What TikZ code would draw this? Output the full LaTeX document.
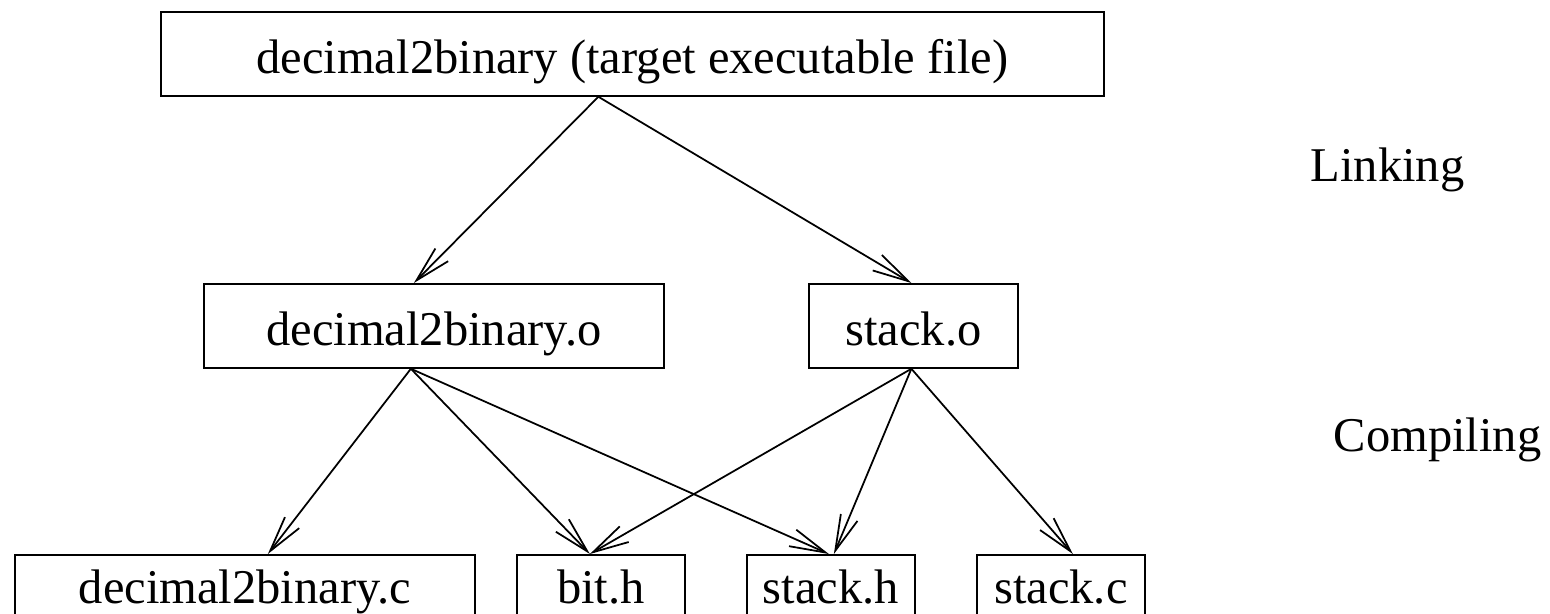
\documentclass[tikz,border=0pt]{standalone}
\usepackage{fontspec}
\setmainfont{Liberation Serif}
\usetikzlibrary{arrows.meta}
\tikzset{
  box/.style={draw, inner sep=0pt, anchor=north west, text height=1.24cm, text depth=0.44cm},
  lowbox/.style={box, text height=0.98cm, text depth=0.70cm},
  link/.style={-{Straight Barb[length=0.72cm,width=0.36cm]}}
}
\begin{document}
\begin{tikzpicture}[line width=1pt, every node/.append style={font=\fontsize{27.6}{33}\selectfont}]
        \useasboundingbox (0,0) rectangle (31,-12.26);
        \draw (3.20,-0.22)  node[box,minimum width=18.86cm] (exe) {decimal2binary (target executable file)};
        \draw (4.06,-5.66)  node[box,minimum width=9.20cm] (dbo) {decimal2binary.o};
        \draw (16.16,-5.66) node[box,minimum width=4.18cm] (sto) {stack.o};
        \draw (0.28,-11.08) node[lowbox,minimum width=9.20cm] (dbc) {decimal2binary.c};
        \draw (10.32,-11.08) node[lowbox,minimum width=3.36cm] (bith) {bit.h};
        \draw (14.92,-11.08) node[lowbox,minimum width=3.36cm] (sth) {stack.h};
        \draw (19.52,-11.08) node[lowbox,minimum width=3.36cm] (stc) {stack.c};
        \node at (27.75,-3.40) (lnk) {Linking};
        \node at (28.75,-8.80) (cmp) {Compiling};
        % linking
        \draw[link] ([xshift=-0.68cm]exe.south) -- ([xshift=-0.40cm]dbo.north);
        \draw[link] ([xshift=-0.68cm]exe.south) -- ([xshift=-0.04cm]sto.north);
        % compiling
        \draw[link] ([xshift=-0.46cm]dbo.south) -- ([xshift=0.46cm]dbc.north);
        \draw[link] ([xshift=-0.46cm]dbo.south) -- ([xshift=-0.22cm]bith.north);
        \draw[link] ([xshift=-0.46cm]dbo.south) -- ([xshift=-0.04cm]sth.north);
        \draw[link] ([xshift=-0.04cm]sto.south) -- ([xshift=-0.22cm]bith.north);
        \draw[link] ([xshift=-0.04cm]sto.south) -- ([xshift=0.06cm]sth.north);
        \draw[link] ([xshift=-0.04cm]sto.south) -- ([xshift=0.24cm]stc.north);
\end{tikzpicture}
\end{document}
